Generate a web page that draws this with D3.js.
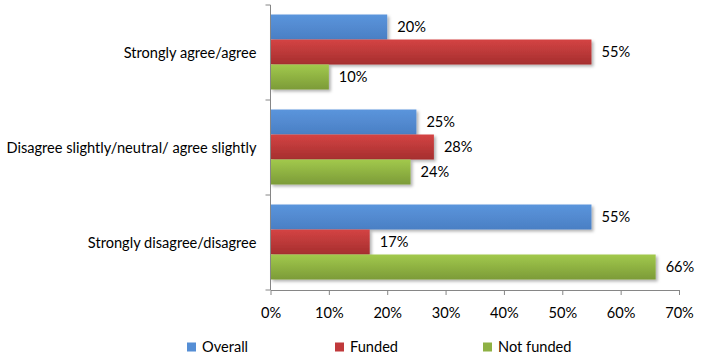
<!DOCTYPE html>
<html>
<head>
<meta charset="utf-8">
<script src="https://cdn.jsdelivr.net/npm/d3@7"></script>
<style>
  body { margin: 0; background: #fff; }
  svg { font-family: Lato, "Open Sans", sans-serif; }
</style>
</head>
<body>
<div id="chart"></div>
<script>
// chart data
const categories = ["Strongly agree/agree", "Disagree slightly/neutral/ agree slightly", "Strongly disagree/disagree"];
const seriesNames = ["Overall", "Funded", "Not funded"];
const overall = [20, 25, 55];
const funded = [55, 28, 17];
const notFunded = [10, 24, 66];
const xTicks = [0, 10, 20, 30, 40, 50, 60, 70];

const seriesValues = [overall, funded, notFunded];
const colors = [
  { top: "#5b95dc", bottom: "#4a7fc4", key: "#558ed5" },
  { top: "#d44444", bottom: "#a52e2e", key: "#c0393b" },
  { top: "#a2c94c", bottom: "#7c9b38", key: "#8eb144" }
];

const width = 703, height = 358;
const margin = { top: 5, right: 24, bottom: 68, left: 270.5 };
const innerW = width - margin.left - margin.right;
const innerH = height - margin.top - margin.bottom;
const fs = 14.6;

const svg = d3.select("#chart").append("svg")
  .attr("width", width)
  .attr("height", height);

const defs = svg.append("defs");
colors.forEach((c, i) => {
  const g = defs.append("linearGradient")
    .attr("id", "grad" + i)
    .attr("x1", 0).attr("x2", 0).attr("y1", 0).attr("y2", 1);
  g.append("stop").attr("offset", "0%").attr("stop-color", c.top);
  g.append("stop").attr("offset", "100%").attr("stop-color", c.bottom);
});
const shadow = defs.append("filter").attr("id", "shadow")
  .attr("x", "-5%").attr("y", "-20%").attr("width", "115%").attr("height", "160%");
shadow.append("feDropShadow")
  .attr("dx", 2).attr("dy", 2).attr("stdDeviation", 1.5)
  .attr("flood-color", "#000").attr("flood-opacity", 0.3);

const g = svg.append("g").attr("transform", `translate(${margin.left},${margin.top})`);

const x = d3.scaleLinear().domain([0, 70]).range([0, innerW]);
const y = d3.scaleBand().domain(categories).range([0, innerH]).paddingInner(0).paddingOuter(0);
const y1 = d3.scaleBand().domain(seriesNames).range([9.5, y.bandwidth() - 10.5]);

// bars
const groups = g.selectAll(".grp")
  .data(categories)
  .enter().append("g")
  .attr("class", "grp")
  .attr("transform", d => `translate(0,${y(d)})`);

seriesNames.forEach((s, si) => {
  groups.append("rect")
    .attr("x", 0)
    .attr("y", y1(s))
    .attr("width", (d, ci) => x(seriesValues[si][ci]))
    .attr("height", y1.bandwidth())
    .attr("fill", `url(#grad${si})`)
    .attr("filter", "url(#shadow)");

  groups.append("text")
    .attr("x", (d, ci) => x(seriesValues[si][ci]) + 10)
    .attr("y", y1(s) + y1.bandwidth() / 2)
    .attr("dy", "0.36em")
    .attr("font-size", fs)
    .attr("fill", "#000")
    .text((d, ci) => seriesValues[si][ci] + "%");
});

// axes
const axisColor = "#868686";
const xAxis = g.append("g")
  .attr("transform", `translate(0,${innerH})`)
  .call(d3.axisBottom(x).tickValues(xTicks).tickFormat(d => d + "%").tickSize(5).tickSizeOuter(0));
xAxis.select(".domain").attr("stroke", axisColor);
xAxis.selectAll(".tick line").attr("stroke", axisColor);
xAxis.selectAll(".tick text")
  .attr("font-size", fs).attr("fill", "#000").attr("y", 23).attr("dy", "0.36em")
  .attr("font-family", "Lato, sans-serif");

// left axis: line plus ticks at category boundaries
const yAxis = g.append("g");
yAxis.append("line")
  .attr("x1", 0).attr("x2", 0).attr("y1", 0).attr("y2", innerH)
  .attr("stroke", axisColor);
const boundaries = categories.map(c => y(c)).concat([innerH]);
yAxis.selectAll(".btick")
  .data(boundaries)
  .enter().append("line")
  .attr("x1", -5).attr("x2", 0)
  .attr("y1", d => d).attr("y2", d => d)
  .attr("stroke", axisColor);
yAxis.selectAll(".clabel")
  .data(categories)
  .enter().append("text")
  .attr("x", -14)
  .attr("y", d => y(d) + y.bandwidth() / 2)
  .attr("dy", "0.36em")
  .attr("text-anchor", "end")
  .attr("font-size", fs)
  .attr("fill", "#000")
  .text(d => d);

// legend
const legendX = [187, 335, 483];
const legend = svg.append("g").attr("transform", `translate(0,347)`);
seriesNames.forEach((s, i) => {
  legend.append("rect")
    .attr("x", legendX[i]).attr("y", -4.5)
    .attr("width", 9).attr("height", 9)
    .attr("fill", colors[i].key);
  legend.append("text")
    .attr("x", legendX[i] + 15)
    .attr("y", 0)
    .attr("dy", "0.36em")
    .attr("font-size", fs)
    .attr("fill", "#000")
    .text(s);
});
</script>
</body>
</html>
